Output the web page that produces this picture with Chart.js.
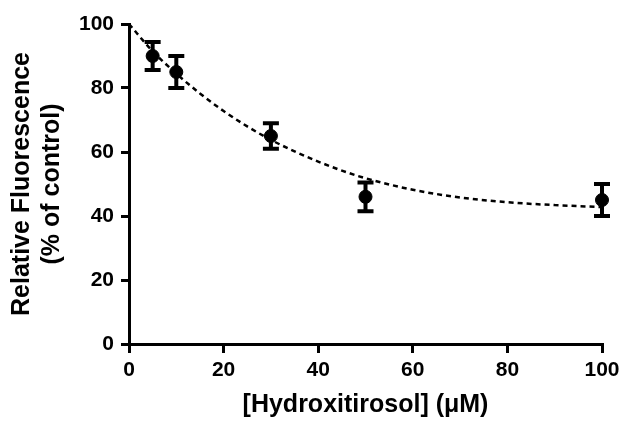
<!DOCTYPE html>
<html>
<head>
<meta charset="utf-8">
<script src="https://cdn.jsdelivr.net/npm/chart.js@4"></script>
<style>
  body { margin: 0; background: #fff; }
  .wrap { width: 627px; height: 422px; position: relative; }
</style>
</head>
<body>
<div class="wrap"><canvas id="myChart"></canvas></div>
<script>
const concentrations = [5, 10, 30, 50, 100]
const fluorescence = [90, 85, 65, 46, 45]
const errors = [4.4, 5, 4, 4.5, 5]

// dashed fit curve, read at regular x positions
const curveX = [0, 5, 10, 15, 20, 25, 30, 35, 40, 45, 50, 60, 70, 80, 90, 100]
const curveY = [100, 91.5, 84.5, 78.3, 72.8, 68, 63.8, 60.2, 57, 54.2, 51.8, 48.2, 45.8, 44.3, 43.4, 42.8]

const xTicks = [0, 20, 40, 60, 80, 100]
const yTicks = [0, 20, 40, 60, 80, 100]

Chart.defaults.font.family = "'Liberation Sans', Arial, sans-serif"
Chart.defaults.color = '#000'

// error bars with caps, drawn through the scales
const errorBars = {
  id: 'errorBars',
  afterDatasetsDraw(chart) {
    const x = chart.scales.x
    const y = chart.scales.y
    const c = chart.ctx
    c.save()
    c.strokeStyle = '#000'
    c.lineWidth = 4
    concentrations.forEach((conc, i) => {
      const px = x.getPixelForValue(conc)
      const top = y.getPixelForValue(fluorescence[i] + errors[i])
      const bot = y.getPixelForValue(fluorescence[i] - errors[i])
      c.beginPath()
      c.moveTo(px, top)
      c.lineTo(px, bot)
      c.moveTo(px - 8, top)
      c.lineTo(px + 8, top)
      c.moveTo(px - 8, bot)
      c.lineTo(px + 8, bot)
      c.stroke()
    })
    c.restore()
  }
}

const ctx = document.getElementById('myChart')
const myChart = new Chart(ctx, {
  type: 'scatter',
  data: {
    datasets: [{
      label: 'fit',
      type: 'line',
      data: curveX.map((v, i) => ({x: v, y: curveY[i]})),
      borderColor: '#000',
      borderWidth: 2.5,
      borderDash: [5, 4],
      pointRadius: 0,
      cubicInterpolationMode: 'monotone',
      fill: false,
      clip: false
    }, {
      label: 'Hydroxitirosol',
      data: concentrations.map((v, i) => ({x: v, y: fluorescence[i]})),
      backgroundColor: '#000',
      borderColor: '#000',
      pointRadius: 6.5,
      pointHoverRadius: 6.5,
      clip: false
    }]
  },
  options: {
    responsive: true,
    maintainAspectRatio: false,
    animation: false,
    events: [],
    layout: {
      padding: {top: 24, right: 25, left: 0, bottom: 0}
    },
    plugins: {
      legend: {display: false},
      tooltip: {enabled: false}
    },
    scales: {
      x: {
        type: 'linear',
        min: 0,
        max: 100,
        afterBuildTicks: (scale) => { scale.ticks = xTicks.map(v => ({value: v})) },
        afterFit: (scale) => { scale.height = 78 },
        grid: {drawOnChartArea: false, drawTicks: true, tickLength: 9, lineWidth: 3, color: '#000'},
        border: {display: true, width: 3, color: '#000'},
        ticks: {font: {size: 21, weight: 'bold'}, padding: 5, maxRotation: 0},
        title: {
          display: true,
          text: '[Hydroxitirosol] (\u03bcM)',
          font: {size: 25, weight: 'bold'},
          padding: {bottom: 2}
        }
      },
      y: {
        type: 'linear',
        min: 0,
        max: 100,
        afterBuildTicks: (scale) => { scale.ticks = yTicks.map(v => ({value: v})) },
        afterFit: (scale) => { scale.width = 129 },
        grid: {drawOnChartArea: false, drawTicks: true, tickLength: 8, lineWidth: 3, color: '#000'},
        border: {display: true, width: 3, color: '#000'},
        ticks: {font: {size: 21, weight: 'bold'}, padding: 7},
        title: {
          display: true,
          text: ['Relative Fluorescence', '(% of control)'],
          font: {size: 25, weight: 'bold', lineHeight: 1.2},
          padding: {top: 7}
        }
      }
    }
  },
  plugins: [errorBars]
})
</script>
</body>
</html>
